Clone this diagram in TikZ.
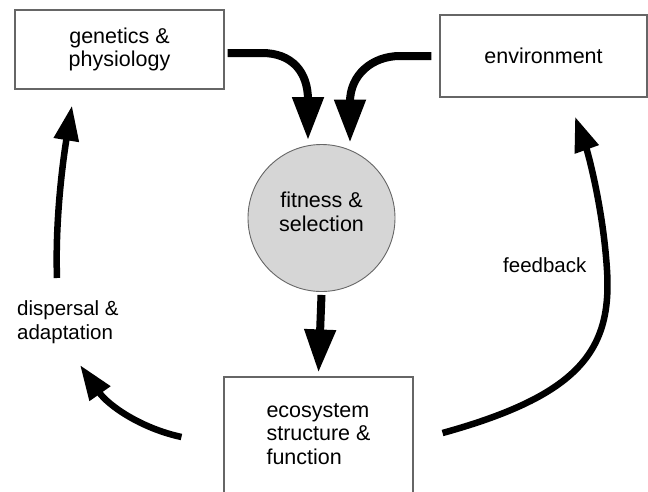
\documentclass[tikz,border=0pt]{standalone}
\usepackage{fontspec}
\setmainfont{Liberation Sans}
\usetikzlibrary{arrows.meta}
\definecolor{boxline}{HTML}{666666}
\definecolor{fitfill}{HTML}{D6D6D6}
\begin{document}
\begin{tikzpicture}[x=1pt,y=-1pt,
  txt/.style={font=\fontsize{21.5}{23.5}\selectfont},
  boxnode/.style={draw=boxline, line width=1.1pt, fill=white, inner sep=0pt, align=center, txt},
  fitnode/.style={circle, draw=boxline, line width=0.9pt, fill=fitfill, minimum size=147pt, inner sep=0pt},
  bigarrow/.style={line width=8pt, -{Triangle[length=43pt,width=30pt]}},
  thinarrow/.style={line width=6.5pt, -{Triangle[length=35pt,width=24pt]}},
  lbl/.style={align=left, inner sep=0pt, font=\fontsize{20.5}{24}\selectfont}]
\useasboundingbox (0,0) rectangle (648,491);
\clip (0,0) rectangle (648,491);
\node[boxnode, minimum width=209pt, minimum height=79pt] (gen) at (119.5,49.5) {genetics \&\\physiology};
\node[boxnode, minimum width=207pt, minimum height=82pt] (env) at (543.5,56) {environment};
\node[fitnode] (fit) at (321.5,218) {};
\node[txt, align=center, inner sep=0pt] (fittext) at (321.5,212) {fitness \&\\selection};
\node[boxnode, minimum width=189pt, minimum height=126pt] (eco) at (318.5,440) {};
\node[txt, align=left, inner sep=0pt] (ecotext) at (318.5,434) {ecosystem\\structure \&\\function};
% arrows into fitness
\draw[bigarrow] ([xshift=3pt,yshift=-3.5pt]gen.east) -- (262,53) .. controls (292,53) and (308,72) .. (308,100) -- ([xshift=-13.5pt,yshift=4pt]fit.north);
\draw[bigarrow] ([xshift=-8pt]env.west) -- (400,56) .. controls (372,56) and (350,75) .. (350,102) -- ([xshift=28.5pt,yshift=1.5pt]fit.north);
\draw[bigarrow] ([yshift=-3pt]fit.south) -- ([yshift=4pt]eco.north);
% side arrows
\coordinate (dispA) at (57,278);
\draw[thinarrow] (dispA) .. controls (55,220) and (63,160) .. ([xshift=-47.5pt,yshift=-16pt]gen.south);
\coordinate (dispTip) at (80,365);
\draw[thinarrow] ([xshift=-42pt,yshift=3pt]eco.west) .. controls (140,428) and (108,405) .. (dispTip);
\draw[thinarrow] ([xshift=29pt,yshift=7pt]eco.east) .. controls (580,395) and (612,350) .. (607,270) .. controls (603,206) and (587,150) .. ([xshift=31.5pt,yshift=-19pt]env.south);
% labels
\node[lbl, anchor=base west] (disp) at (17,339) {dispersal \&\\adaptation};
\node[lbl, anchor=base west] (fb) at (503,272) {feedback};
\end{tikzpicture}
\end{document}
